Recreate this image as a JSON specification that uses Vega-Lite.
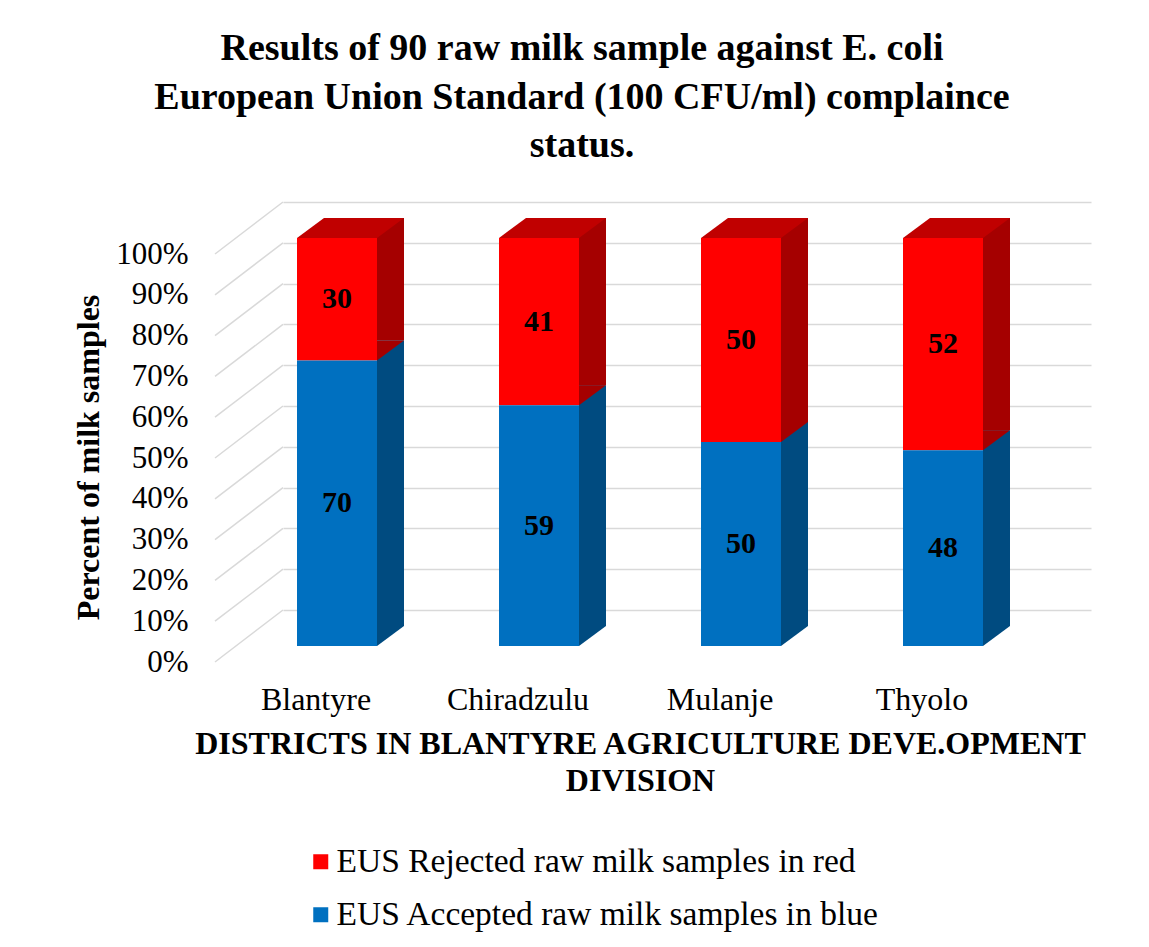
{
  "$schema": "https://vega.github.io/schema/vega-lite/v6.json",
  "width": 808,
  "height": 408,
  "autosize": {"type": "none"},
  "padding": {"left": 283, "top": 202, "right": 58, "bottom": 337},
  "background": "white",
  "title": {
    "text": [
      "Results of 90 raw milk sample against E. coli",
      "European Union Standard (100 CFU/ml) complaince",
      "status."
    ],
    "font": "Liberation Serif",
    "fontSize": 38,
    "fontWeight": "bold",
    "color": "black",
    "anchor": "middle",
    "dx": -105,
    "offset": 34,
    "lineHeight": 48.5
  },
  "datasets": {
    "milk": [
      {"district": "Blantyre", "status": "EUS Rejected raw milk samples in red", "pct": 30},
      {"district": "Blantyre", "status": "EUS Accepted raw milk samples in blue", "pct": 70},
      {"district": "Chiradzulu", "status": "EUS Rejected raw milk samples in red", "pct": 41},
      {"district": "Chiradzulu", "status": "EUS Accepted raw milk samples in blue", "pct": 59},
      {"district": "Mulanje", "status": "EUS Rejected raw milk samples in red", "pct": 50},
      {"district": "Mulanje", "status": "EUS Accepted raw milk samples in blue", "pct": 50},
      {"district": "Thyolo", "status": "EUS Rejected raw milk samples in red", "pct": 52},
      {"district": "Thyolo", "status": "EUS Accepted raw milk samples in blue", "pct": 48}
    ],
    "gridLevels": [
      {"pct": 0}, {"pct": 10}, {"pct": 20}, {"pct": 30}, {"pct": 40}, {"pct": 50},
      {"pct": 60}, {"pct": 70}, {"pct": 80}, {"pct": 90}, {"pct": 100}
    ]
  },
  "data": {"name": "milk"},
  "encoding": {
    "x": {
      "field": "district",
      "type": "nominal",
      "sort": null,
      "scale": {"paddingInner": 0, "paddingOuter": 0},
      "axis": {
        "labelAngle": 0,
        "labelFont": "Liberation Serif",
        "labelFontSize": 32,
        "labelColor": "black",
        "labelOffset": -68,
        "labelPadding": 99,
        "labelBaseline": "alphabetic",
        "domain": false,
        "ticks": false,
        "tickSize": 0,
        "grid": false,
        "titleFont": "Liberation Serif",
        "titleFontSize": 32,
        "titleFontWeight": "bold",
        "titleColor": "black",
        "titleLineHeight": 37,
        "titleX": 357,
        "titleY": 143,
        "titleAlign": "center",
        "titleBaseline": "alphabetic"
      },
      "title": ["DISTRICTS IN BLANTYRE AGRICULTURE DEVE.OPMENT", "DIVISION"]
    },
    "y": {
      "field": "pct",
      "type": "quantitative",
      "stack": "zero",
      "scale": {"domain": [0, 100]},
      "title": "Percent of milk samples",
      "axis": {
        "values": [0, 10, 20, 30, 40, 50, 60, 70, 80, 90, 100],
        "labelExpr": "datum.value + '%'",
        "labelFont": "Liberation Serif",
        "labelFontSize": 31,
        "labelColor": "black",
        "labelPadding": 95,
        "labelOffset": 52,
        "domain": false,
        "ticks": false,
        "tickSize": 0,
        "grid": true,
        "gridColor": "#d9d9d9",
        "gridWidth": 1.5,
        "titleFont": "Liberation Serif",
        "titleFontSize": 32,
        "titleFontWeight": "bold",
        "titleColor": "black",
        "titleX": -195,
        "titleY": 255,
        "titleAlign": "center",
        "titleBaseline": "middle"
      }
    }
  },
  "layer": [
    {
      "data": {"name": "gridLevels"},
      "mark": {"type": "point", "shape": "M -68 52 L 0 0", "size": 4, "filled": false, "stroke": "#d9d9d9", "strokeWidth": 1.5, "opacity": 1},
      "encoding": {
        "x": {"datum": "Blantyre", "type": "nominal", "bandPosition": 0},
        "y": {"field": "pct", "type": "quantitative", "stack": null, "title": "Percent of milk samples"}
      }
    },
    {
      "mark": {"type": "bar", "width": 27, "xOffset": 6.5, "yOffset": 16, "y2Offset": 16},
      "encoding": {
        "detail": {"field": "status"},
        "order": {"field": "status", "sort": "ascending"},
        "fill": {
          "condition": {"test": "datum.status === 'EUS Rejected raw milk samples in red'", "value": "#A50000"},
          "value": "#004B80"
        }
      }
    },
    {
      "mark": {"type": "point", "shape": "M 40 -20 L 40 0 L 67 -20 Z", "size": 4, "filled": true, "opacity": 1, "strokeWidth": 0, "xOffset": -47, "yOffset": 36},
      "encoding": {
        "y": {"field": "pct", "type": "quantitative", "stack": "zero", "bandPosition": 0, "title": "Percent of milk samples"},
        "detail": {"field": "status"},
        "order": {"field": "status", "sort": "ascending"},
        "fill": {
          "condition": {"test": "datum.status === 'EUS Rejected raw milk samples in red'", "value": "#A50000"},
          "value": "#004B80"
        }
      }
    },
    {
      "mark": {"type": "bar", "width": 80, "xOffset": -47, "yOffset": 36, "y2Offset": 36},
      "encoding": {
        "order": {"field": "status", "sort": "ascending"},
        "color": {
          "field": "status",
          "type": "nominal",
          "scale": {
            "domain": ["EUS Rejected raw milk samples in red", "EUS Accepted raw milk samples in blue"],
            "range": ["#FF0000", "#0070C0"]
          },
          "legend": {
            "orient": "none",
            "legendX": 21,
            "legendY": 643,
            "direction": "vertical",
            "title": null,
            "symbolType": "square",
            "symbolSize": 225,
            "symbolStrokeWidth": 0,
            "labelFont": "Liberation Serif",
            "labelFontSize": 33.5,
            "labelColor": "black",
            "labelOffset": -1,
            "labelLimit": 800,
            "rowPadding": 18
          }
        }
      }
    },
    {
      "transform": [{"filter": "datum.status === 'EUS Rejected raw milk samples in red'"}],
      "mark": {"type": "point", "shape": "M -40 0 L 40 0 L 67 -20 L -13 -20 Z", "size": 4, "filled": true, "opacity": 1, "strokeWidth": 0, "fill": "#C00000", "xOffset": -47, "yOffset": 36},
      "encoding": {
        "y": {"datum": 100, "type": "quantitative", "title": "Percent of milk samples"}
      }
    },
    {
      "mark": {"type": "text", "font": "Liberation Serif", "fontSize": 30, "fontWeight": "bold", "color": "black", "dx": -47, "dy": 36},
      "encoding": {
        "y": {"field": "pct", "type": "quantitative", "stack": "zero", "bandPosition": 0.5, "title": "Percent of milk samples"},
        "text": {"field": "pct", "type": "quantitative"},
        "detail": {"field": "status"},
        "order": {"field": "status", "sort": "ascending"}
      }
    }
  ],
  "config": {
    "view": {"stroke": null},
    "font": "Liberation Serif"
  }
}
